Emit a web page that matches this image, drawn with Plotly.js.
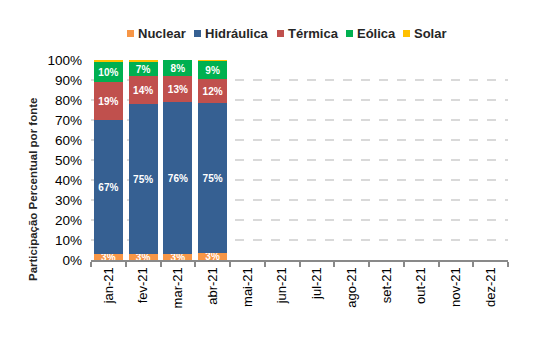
<!DOCTYPE html>
<html>
<head>
<meta charset="utf-8">
<script src="https://cdn.plot.ly/plotly-3.0.1.min.js"></script>
<style>html,body{margin:0;padding:0;background:#fff;}#chart{width:538px;height:340px;}</style>
</head>
<body>
<div id="chart"></div>
<script>
const months = ['jan-21','fev-21','mar-21','abr-21','mai-21','jun-21','jul-21','ago-21','set-21','out-21','nov-21','dez-21'];
const nuclear    = [3, 3, 3, 3.4, null, null, null, null, null, null, null, null];
const hidraulica = [67, 75, 76, 75, null, null, null, null, null, null, null, null];
const termica    = [19, 14, 13, 12, null, null, null, null, null, null, null, null];
const eolica     = [10, 7, 8, 9, null, null, null, null, null, null, null, null];
const solar      = [1, 1, 0.5, 0.8, null, null, null, null, null, null, null, null];
const yTickVals  = [0,10,20,30,40,50,60,70,80,90,100];
const yTickText  = ['0%','10%','20%','30%','40%','50%','60%','70%','80%','90%','100%'];

const seriesNames = ['Nuclear','Hidráulica','Térmica','Eólica','Solar'];
const seriesData = [nuclear, hidraulica, termica, eolica, solar];
const colors = ['#F79646','#366092','#C0504D','#00B050','#FFC000'];
const showText = [true, true, true, true, false];

const traces = seriesNames.map((name, i) => ({
  type: 'bar',
  name: name,
  x: months,
  y: seriesData[i],
  marker: {color: colors[i]},
  text: showText[i] ? seriesData[i].map(v => v == null ? '' : Math.round(v) + '%') : undefined,
  textposition: showText[i] ? 'inside' : 'none',
  insidetextanchor: 'middle',
  textfont: {color: '#ffffff', size: 10, family: 'Liberation Sans, Arial, sans-serif', weight: 'bold'},
  hoverinfo: 'none',
  showlegend: false
}));

// custom legend (pixel positions converted to paper coordinates)
const L = 91, W = 417, B = 260, H = 200;
const px = x => (x - L) / W;
const py = y => (B - y) / H;
const legendX = [127, 194, 277, 346, 403];
const shapes = [];
const annotations = [];
seriesNames.forEach((name, i) => {
  shapes.push({type: 'rect', xref: 'paper', yref: 'paper',
    x0: px(legendX[i]), x1: px(legendX[i] + 7), y0: py(37), y1: py(30),
    fillcolor: colors[i], line: {width: 0}});
  annotations.push({text: '<b>' + name + '</b>', xref: 'paper', yref: 'paper',
    x: px(legendX[i] + 9), y: py(33.5), xanchor: 'left', yanchor: 'middle',
    showarrow: false, font: {size: 13, color: '#262626'}});
});
annotations.push({
  text: '<b>Participação Percentual por fonte</b>',
  xref: 'paper', yref: 'paper', x: px(33), y: py(190),
  xanchor: 'center', yanchor: 'middle',
  textangle: -90, showarrow: false,
  font: {size: 11.5, color: '#262626'}
});

const layout = {
  width: 538, height: 340,
  barmode: 'stack',
  bargap: 0.16,
  margin: {l: 91, r: 30, t: 60, b: 80},
  paper_bgcolor: '#ffffff',
  plot_bgcolor: '#ffffff',
  font: {family: 'Liberation Sans, Arial, sans-serif', color: '#000000'},
  uniformtext: {minsize: 10, mode: 'show'},
  showlegend: false,
  xaxis: {
    type: 'category',
    tickson: 'boundaries',
    ticks: 'outside', ticklen: 5, tickwidth: 2, tickcolor: '#898989',
    showline: true, linecolor: '#898989', linewidth: 2,
    tickangle: -90,
    tickfont: {size: 13, color: '#000000'},
    showgrid: false,
    fixedrange: true
  },
  yaxis: {
    range: [0, 100],
    tickmode: 'array',
    tickvals: yTickVals,
    ticktext: yTickText,
    tickfont: {size: 13.5, color: '#000000'},
    ticklabelstandoff: 8,
    showgrid: true, gridcolor: '#d9d9d9', gridwidth: 2, griddash: 'dash',
    zeroline: false,
    showline: false,
    ticks: '',
    fixedrange: true
  },
  shapes: shapes,
  annotations: annotations
};

Plotly.newPlot('chart', traces, layout, {displayModeBar: false, staticPlot: true});
</script>
</body>
</html>
